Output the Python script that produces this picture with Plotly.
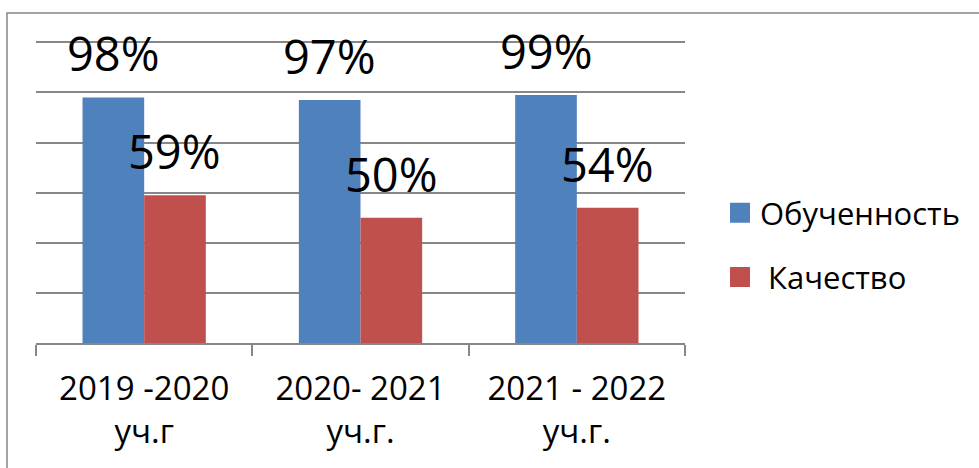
import plotly.graph_objects as go

categories = ["2019 -2020<br>уч.г", "2020- 2021<br>уч.г.", "2021 - 2022<br>уч.г."]
obuchennost = [98, 97, 99]
kachestvo = [59, 50, 54]
series_names = ["Обученность", "\u00a0Качество"]
colors = ["#4F81BD", "#C0504D"]
tick_vals_y = [0, 20, 40, 60, 80, 100, 120]

FONT = "Open Sans"
W, H = 979, 468
ML, MR, MT, MB = 36, 294, 41, 125
pw = W - ML - MR
ph = H - MT - MB

fig = go.Figure()
for name, vals, col in zip(series_names, [obuchennost, kachestvo], colors):
    fig.add_trace(go.Bar(x=categories, y=vals, name=name, marker_color=col,
                         marker_line_width=0, showlegend=False, hoverinfo="skip"))
    # legend proxy with larger square swatch
    fig.add_trace(go.Scatter(x=[None], y=[None], mode="markers", name=name,
                             legendgroup=name,
                             marker=dict(symbol="square", size=16, color=col,
                                         line=dict(color=col, width=4))))

bargap = 0.43
cat_px = pw / len(categories)
bar_px = cat_px * (1 - bargap) / 2
for vals, sign in [(obuchennost, -1), (kachestvo, 1)]:
    for c, v in zip(categories, vals):
        fig.add_annotation(x=c, y=v, xref="x", yref="y", text=f"{v}%",
                           showarrow=False, xshift=sign * bar_px / 2, yshift=44,
                           yanchor="middle", xanchor="center",
                           font=dict(family=FONT, size=47, color="black"))

# outer chart border
fig.add_shape(type="rect", xref="paper", yref="paper",
              x0=(7 - ML) / pw, x1=(990 - ML) / pw,
              y0=(MT + ph - 480) / ph, y1=(MT + ph - 13) / ph,
              line=dict(color="#878787", width=1.5), fillcolor="rgba(0,0,0,0)")

fig.update_layout(
    width=W, height=H,
    margin=dict(l=ML, r=MR, t=MT, b=MB),
    barmode="group", bargap=bargap, bargroupgap=0,
    plot_bgcolor="white", paper_bgcolor="white",
    font=dict(family=FONT, color="black"),
    legend=dict(x=(720 - ML) / pw, xanchor="left", y=(MT + ph - 245) / ph,
                yanchor="middle", font=dict(family=FONT, size=31, color="black"),
                traceorder="grouped", tracegroupgap=21, bgcolor="rgba(0,0,0,0)"),
    xaxis=dict(showline=True, linecolor="#878787", linewidth=1.5,
               ticks="outside", tickson="boundaries", ticklen=11,
               tickcolor="#878787", tickwidth=1.5, ticklabelstandoff=16,
               tickfont=dict(family=FONT, size=33, color="black"),
               showgrid=False),
    yaxis=dict(range=[0, 120.5], tickvals=tick_vals_y, showticklabels=False,
               showgrid=True, gridcolor="#878787", gridwidth=1.5,
               zeroline=False, showline=False, fixedrange=True),
)

fig.write_html("out.html", config={"displayModeBar": False},
               post_script="document.body.style.margin='0';document.body.style.overflow='hidden';")
